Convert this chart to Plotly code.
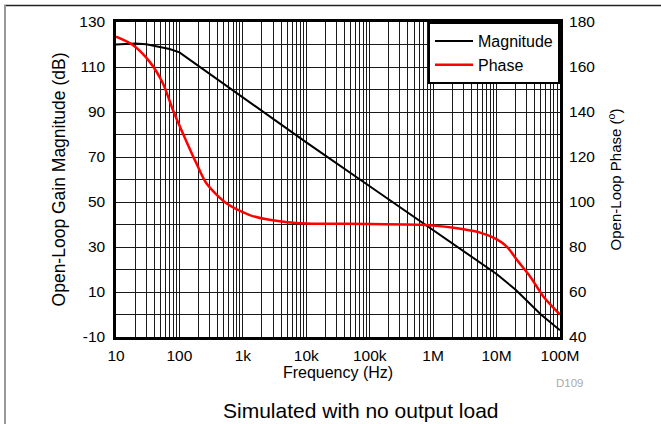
import plotly.graph_objects as go

# ---- data ----
mag_freq = [10, 15, 20, 30, 50, 70, 100, 1e3, 1e4, 1e5, 1e6, 1e7, 2e7, 3e7, 5e7, 1e8]
mag_db = [120, 120.2, 120.4, 120.1, 119, 118, 116.5, 96.5, 76.5, 57, 37.5, 18, 11, 6, 0, -7]

ph_freq = [10, 18.4, 33.8, 54.8, 78.9, 113.5, 185, 266, 551, 1285, 2360, 5000, 1e4, 1e5,
           7.94e5, 3.01e6, 5.52e6, 1.01e7, 1.46e7, 2.1e7, 3.4e7, 5.5e7, 1e8]
ph_deg = [173.5, 169.8, 162.4, 152.8, 140.9, 130.5, 117.2, 108.3, 99.4, 94.2, 92.3, 91, 90.5, 90.2,
          89.8, 87.9, 86.4, 83.4, 80.1, 74.2, 66.8, 57.9, 50]

x_tickvals = [10, 100, 1e3, 1e4, 1e5, 1e6, 1e7, 1e8]
x_ticktext = ["10", "100", "1k", "10k", "100k", "1M", "10M", "100M"]
y_tickvals = [-10, 10, 30, 50, 70, 90, 110, 130]
y_ticktext = ["-10", "10", "30", "50", "70", "90", "110", "130"]
y2_tickvals = [40, 60, 80, 100, 120, 140, 160, 180]

FONT = "Liberation Sans, Arial, sans-serif"
W, H = 661, 424
L, R, T, B = 116, 101, 22, 87
pw, ph = W - L - R, H - T - B
CLEAR = "rgba(0,0,0,0)"


def px(x):
    return (x - L) / pw


def py(y):
    return (H - B - y) / ph


fig = go.Figure()
fig.add_trace(go.Scatter(x=mag_freq, y=mag_db, name="Magnitude", mode="lines",
                         line=dict(color="black", width=2)))
fig.add_trace(go.Scatter(x=ph_freq, y=ph_deg, name="Phase", mode="lines", yaxis="y2",
                         line=dict(color="#ff0000", width=2.5, shape="spline", smoothing=0.8)))

grid = "#1a1a1a"
fig.update_layout(
    width=W, height=H,
    margin=dict(l=L, r=R, t=T, b=B, autoexpand=False),
    paper_bgcolor="white", plot_bgcolor="white",
    font=dict(family=FONT, size=15.5, color="black"),
    xaxis=dict(type="log", range=[1, 8], tickvals=x_tickvals, ticktext=x_ticktext,
               showgrid=True, gridcolor=grid, gridwidth=1,
               minor=dict(dtick="D1", showgrid=True, gridcolor=grid, gridwidth=1),
               showline=True, linecolor="black", linewidth=2.5, mirror=True,
               ticks="outside", ticklen=3, tickcolor=CLEAR, tickfont=dict(size=15.5),
               title=dict(text="Frequency (Hz)", font=dict(size=16), standoff=1)),
    yaxis=dict(range=[-10, 130], tickvals=y_tickvals, ticktext=y_ticktext,
               showgrid=True, gridcolor=grid, gridwidth=1,
               minor=dict(dtick=10, tick0=0, showgrid=True, gridcolor=grid, gridwidth=1),
               showline=True, linecolor="black", linewidth=2.5, mirror=True,
               ticks="outside", ticklen=5, tickcolor=CLEAR, tickfont=dict(size=15.5), zeroline=False,
               title=dict(text="Open-Loop Gain Magnitude (dB)", font=dict(size=17.5), standoff=10)),
    yaxis2=dict(range=[40, 180], tickvals=y2_tickvals, overlaying="y", side="right",
                showgrid=False, zeroline=False, ticks="outside", ticklen=5, tickcolor=CLEAR,
                tickfont=dict(size=15.5),
                title=dict(text="Open-Loop Phase (<sup>o</sup>)", font=dict(size=15), standoff=16)),
    legend=dict(x=1, y=1, xanchor="right", yanchor="top", bgcolor="white",
                bordercolor="black", borderwidth=2, font=dict(size=16),
                tracegroupgap=0, itemwidth=38),
    showlegend=True,
)

# outer frame: dark top rule, gray left rule
fig.add_shape(type="line", xref="paper", yref="paper",
              x0=px(4), x1=px(W + 5), y0=py(5.5), y1=py(5.5),
              line=dict(color="#222222", width=1.5), layer="above")
fig.add_shape(type="line", xref="paper", yref="paper",
              x0=px(5), x1=px(5), y0=py(5), y1=py(H + 5),
              line=dict(color="#999999", width=2), layer="above")

fig.add_annotation(text="Simulated with no output load", xref="paper", yref="paper",
                   x=px(361), y=py(410), showarrow=False,
                   font=dict(size=21, family=FONT), xanchor="center", yanchor="middle")
fig.add_annotation(text="D109", xref="paper", yref="paper",
                   x=px(570), y=py(383), showarrow=False,
                   font=dict(size=11.5, family=FONT, color="#aaaaaa"), xanchor="center", yanchor="middle")

fig.write_html("out.html", config={"displayModeBar": False},
               post_script="document.body.style.margin='0';document.body.style.padding='0';")
